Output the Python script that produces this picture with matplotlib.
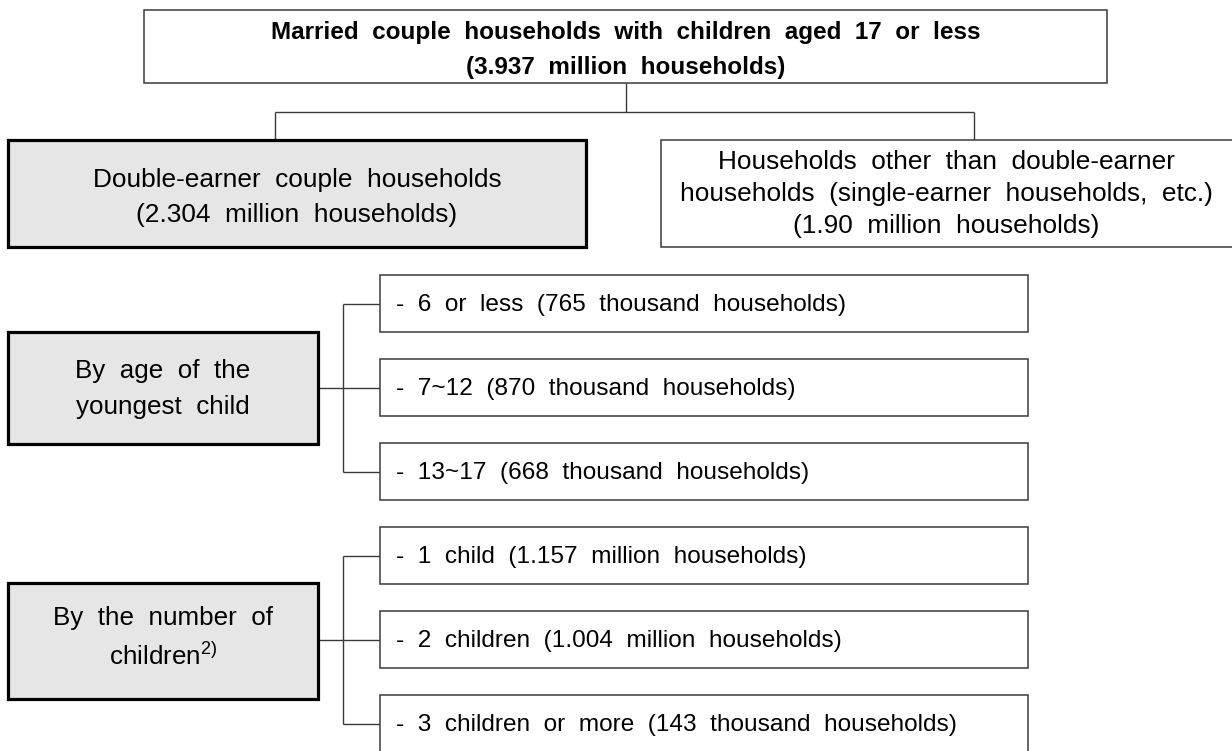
import matplotlib
matplotlib.use("Agg")
import matplotlib.pyplot as plt
from matplotlib.patches import Rectangle

plt.rcParams['font.family'] = ['Liberation Sans', 'DejaVu Sans']
plt.rcParams['mathtext.fontset'] = 'custom'
plt.rcParams['mathtext.rm'] = 'Liberation Sans'
plt.rcParams['mathtext.it'] = 'Liberation Sans:italic'
plt.rcParams['mathtext.bf'] = 'Liberation Sans:bold'

# ---- data ----
top_title = "Married couple households with children aged 17 or less"
top_value = "(3.937 million households)"
dual_title = "Double-earner couple households"
dual_value = "(2.304 million households)"
other_lines = ["Households other than double-earner",
               "households (single-earner households, etc.)",
               "(1.90 million households)"]
age_header = ["By age of the", "youngest child"]
age_groups = ["6 or less", "7~12", "13~17"]
age_counts = ["765 thousand households", "870 thousand households", "668 thousand households"]
num_header = ["By the number of", "children"]
num_groups = ["1 child", "2 children", "3 children or more"]
num_counts = ["1.157 million households", "1.004 million households", "143 thousand households"]


def sp(s):
    return "  ".join(s.split(" "))


W, H = 1232, 751
fig = plt.figure(figsize=(W / 100, H / 100), dpi=100)
ax = fig.add_axes([0, 0, 1, 1])
ax.set_xlim(0, W)
ax.set_ylim(H, 0)
ax.axis('off')

FS_TOP = 17.5
FS_BIG = 18.9
FS_HDR = 18.7
FS_CHILD = 17.6
THIN = '#3a3a3a'
GRAY = '#e6e6e6'


def box(x0, y0, x1, y1, thick=False):
    if thick:
        r = Rectangle((x0, y0), x1 - x0, y1 - y0, facecolor=GRAY,
                      edgecolor='black', linewidth=2.3, zorder=2)
    else:
        r = Rectangle((x0, y0), x1 - x0, y1 - y0, facecolor='white',
                      edgecolor=THIN, linewidth=1.1, zorder=2)
    ax.add_patch(r)


def line(xs, ys):
    ax.plot(xs, ys, color=THIN, linewidth=1.0, zorder=1, solid_capstyle='butt')


# top box
box(144, 10, 1107, 83)
ax.text(625.5, 50, sp(top_title) + "\n" + sp(top_value), ha='center', va='center',
        fontsize=FS_TOP, fontweight='bold', linespacing=1.66, zorder=3)

# connectors from top
line([625.5, 625.5], [83, 112])
line([275, 974], [112, 112])
line([275, 275], [112, 140])
line([974, 974], [112, 140])

# double-earner box
box(8, 140, 586, 247, thick=True)
ax.text(297, 197.5, sp(dual_title) + "\n" + sp(dual_value), ha='center', va='center',
        fontsize=FS_BIG, linespacing=1.6, zorder=3)

# other box
box(661, 140, 1240, 247)
ax.text(946, 194, "\n".join(sp(l) for l in other_lines), ha='center', va='center',
        fontsize=FS_BIG, linespacing=1.42, zorder=3)

# child groups
child_x0, child_x1 = 380, 1028
child_h = 57
bracket_x = 343


def group(top_y, header, groups, counts, hdr_y0, hdr_y1, dy=0.0, sup=False):
    centers = []
    for i, (g, c) in enumerate(zip(groups, counts)):
        y0 = top_y + i * 84
        box(child_x0, y0, child_x1, y0 + child_h)
        yc = y0 + child_h / 2
        centers.append(yc)
        ax.text(396, yc + 1, sp("- " + g + " (" + c + ")"), ha='left', va='center',
                fontsize=FS_CHILD, zorder=3)
        line([bracket_x, child_x0], [yc, yc])
    line([bracket_x, bracket_x], [centers[0], centers[-1]])
    line([318, bracket_x], [centers[1], centers[1]])
    box(8, hdr_y0, 318, hdr_y1, thick=True)
    hc = (hdr_y0 + hdr_y1) / 2 + dy
    if sup:
        txt = sp(header[0]) + "\n" + sp(header[1]) + r"$^{\mathrm{2)}}$"
    else:
        txt = sp(header[0]) + "\n" + sp(header[1])
    ax.text(163, hc, txt, ha='center', va='center', fontsize=FS_HDR,
            linespacing=1.6, zorder=3)


group(275, age_header, age_groups, age_counts, 332, 444, dy=1.0)
group(527, num_header, num_groups, num_counts, 583, 699, dy=-3.0, sup=True)

fig.savefig("out.png", dpi=100, facecolor='white')
